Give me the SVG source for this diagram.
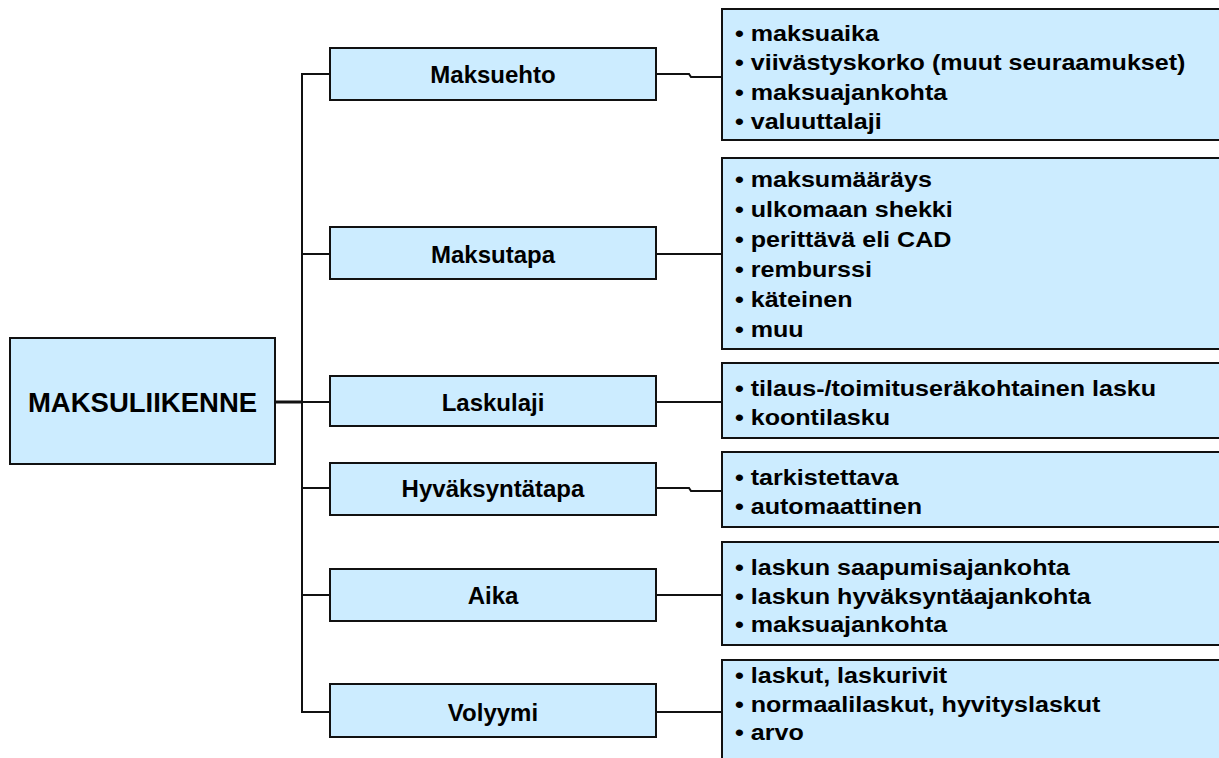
<svg xmlns="http://www.w3.org/2000/svg" width="1219" height="758" viewBox="0 0 1219 758">
  <style>
    .box { fill: #CCECFF; stroke: #111; stroke-width: 2; }
    .link { fill: none; stroke: #111; stroke-width: 2; }
    .root-txt { font-family: "Liberation Sans", Arial, sans-serif; font-weight: bold; font-size: 27.5px; fill: #000; text-anchor: middle; }
    .lbl { font-family: "Liberation Sans", Arial, sans-serif; font-weight: bold; font-size: 24px; fill: #000; text-anchor: middle; }
    .item { font-family: "Liberation Sans", Arial, sans-serif; font-weight: bold; font-size: 22px; fill: #000; }
  </style>
  <rect width="1219" height="758" fill="#fff"/>

  <!-- connectors -->
  <g id="connectors">
    <path class="link" d="M330 74 H302 V712 H330"/>
    <path class="link" style="stroke-width:3" d="M275 402 H302"/>
    <path class="link" d="M302 254 H330 M302 402 H330 M302 488 H330 M302 595 H330"/>
    <path class="link" d="M656 74 H689 L691 77 H722"/>
    <path class="link" d="M656 254 H722"/>
    <path class="link" d="M656 402 H722"/>
    <path class="link" d="M656 488 H689 L691 491 H722"/>
    <path class="link" d="M656 595 H722"/>
    <path class="link" d="M656 712 H722"/>
  </g>

  <!-- root -->
  <g id="maksuliikenne">
    <rect class="box" x="10" y="338" width="265" height="126"/>
    <text class="root-txt" x="142.5" y="412">MAKSULIIKENNE</text>
  </g>

  <!-- categories -->
  <g id="maksuehto">
    <rect class="box" x="330" y="48" width="326" height="52"/>
    <text class="lbl" x="493" y="83">Maksuehto</text>
  </g>
  <g id="maksutapa">
    <rect class="box" x="330" y="227" width="326" height="52"/>
    <text class="lbl" x="493" y="263">Maksutapa</text>
  </g>
  <g id="laskulaji">
    <rect class="box" x="330" y="376" width="326" height="50"/>
    <text class="lbl" x="493" y="411">Laskulaji</text>
  </g>
  <g id="hyvaksyntatapa">
    <rect class="box" x="330" y="463" width="326" height="52"/>
    <text class="lbl" x="493" y="497">Hyväksyntätapa</text>
  </g>
  <g id="aika">
    <rect class="box" x="330" y="569" width="326" height="52"/>
    <text class="lbl" x="493" y="604">Aika</text>
  </g>
  <g id="volyymi">
    <rect class="box" x="330" y="684" width="326" height="53"/>
    <text class="lbl" x="493" y="721">Volyymi</text>
  </g>

  <!-- detail lists -->
  <g id="maksuehto-items">
    <rect class="box" x="722" y="9" width="510" height="131"/>
    <g transform="translate(735 0) scale(1.14 1)">
      <text class="item" x="0" y="41">• maksuaika</text>
      <text class="item" x="0" y="70">• viivästyskorko (muut seuraamukset)</text>
      <text class="item" x="0" y="100">• maksuajankohta</text>
      <text class="item" x="0" y="129">• valuuttalaji</text>
    </g>
  </g>
  <g id="maksutapa-items">
    <rect class="box" x="722" y="158" width="510" height="191"/>
    <g transform="translate(735 0) scale(1.14 1)">
      <text class="item" x="0" y="187">• maksumääräys</text>
      <text class="item" x="0" y="217">• ulkomaan shekki</text>
      <text class="item" x="0" y="247">• perittävä eli CAD</text>
      <text class="item" x="0" y="277">• remburssi</text>
      <text class="item" x="0" y="307">• käteinen</text>
      <text class="item" x="0" y="337">• muu</text>
    </g>
  </g>
  <g id="laskulaji-items">
    <rect class="box" x="722" y="363" width="510" height="75"/>
    <g transform="translate(735 0) scale(1.14 1)">
      <text class="item" x="0" y="396">• tilaus-/toimituseräkohtainen lasku</text>
      <text class="item" x="0" y="425">• koontilasku</text>
    </g>
  </g>
  <g id="hyvaksyntatapa-items">
    <rect class="box" x="722" y="452" width="510" height="75"/>
    <g transform="translate(735 0) scale(1.14 1)">
      <text class="item" x="0" y="485">• tarkistettava</text>
      <text class="item" x="0" y="514">• automaattinen</text>
    </g>
  </g>
  <g id="aika-items">
    <rect class="box" x="722" y="542" width="510" height="103"/>
    <g transform="translate(735 0) scale(1.14 1)">
      <text class="item" x="0" y="575">• laskun saapumisajankohta</text>
      <text class="item" x="0" y="604">• laskun hyväksyntäajankohta</text>
      <text class="item" x="0" y="632">• maksuajankohta</text>
    </g>
  </g>
  <g id="volyymi-items">
    <rect class="box" x="722" y="660" width="510" height="120"/>
    <g transform="translate(735 0) scale(1.14 1)">
      <text class="item" x="0" y="683">• laskut, laskurivit</text>
      <text class="item" x="0" y="712">• normaalilaskut, hyvityslaskut</text>
      <text class="item" x="0" y="740">• arvo</text>
    </g>
  </g>
</svg>
